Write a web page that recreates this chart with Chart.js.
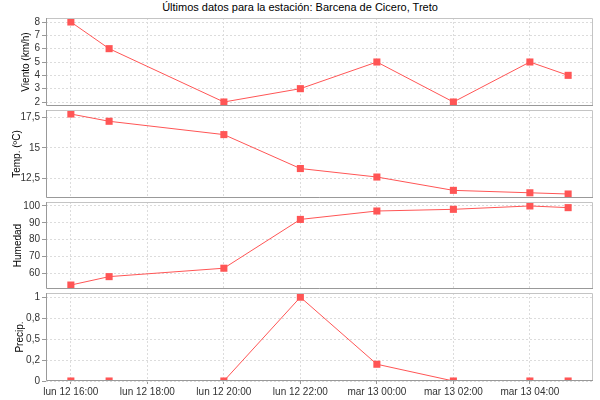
<!DOCTYPE html>
<html>
<head>
<meta charset="utf-8">
<script src="https://cdn.jsdelivr.net/npm/chart.js@4.4.0/dist/chart.umd.min.js"></script>
<style>
  body { margin: 0; background: #fff; }
  #wrap { position: relative; width: 600px; height: 400px; }
  #wrap canvas { position: absolute; left: 0; top: 0; }
  #title {
    position: absolute; top: 1px; left: 0; width: 600px;
    text-align: center; color: #000;
    font: 11px "Liberation Sans", Arial, sans-serif;
  }
</style>
</head>
<body>
<div id="wrap">
  <div id="title">Últimos datos para la estación: Barcena de Cicero, Treto</div>
  <canvas id="viento" width="600" height="400"></canvas>
  <canvas id="temp" width="600" height="400"></canvas>
  <canvas id="humedad" width="600" height="400"></canvas>
  <canvas id="precip" width="600" height="400"></canvas>
</div>
<script>
// observation times (hours after lun 12 16:00)
const timeLabels = ['lun 12 16:00', 'lun 12 17:00', 'lun 12 20:00', 'lun 12 22:00',
                    'mar 13 00:00', 'mar 13 02:00', 'mar 13 04:00', 'mar 13 05:00'];
const timeHours = [0, 1, 4, 6, 8, 10, 12, 13];

const viento = [8, 6, 2, 3, 5, 2, 5, 4];
const temperatura = [17.8, 17.2, 16.1, 13.3, 12.6, 11.5, 11.3, 11.2];
const humedad = [53, 58, 63, 92, 97, 98, 100, 99];
const precipitacion = [0, 0, 0, 1, 0.2, 0, 0, 0];

const xTickHours = [0, 2, 4, 6, 8, 10, 12];
const xTickLabels = ['lun 12 16:00', 'lun 12 18:00', 'lun 12 20:00', 'lun 12 22:00',
                     'mar 13 00:00', 'mar 13 02:00', 'mar 13 04:00'];

const vientoTicks = [2, 3, 4, 5, 6, 7, 8];
const vientoLabels = ['2', '3', '4', '5', '6', '7', '8'];
const tempTicks = [12.5, 15, 17.5];
const tempLabels = ['12,5', '15', '17,5'];
const humedadTicks = [60, 70, 80, 90, 100];
const humedadLabels = ['60', '70', '80', '90', '100'];
const precipTicks = [0, 0.25, 0.5, 0.75, 1];
const precipLabels = ['0', '0,2', '0,5', '0,8', '1'];

const FONT = '"Liberation Sans", Arial, sans-serif';
const RED = '#ff5555';
Chart.defaults.color = '#333';

// 5% margin on each side, like the original auto range
function autoRange(values, includeZero) {
    const lo = Math.min(...values), hi = Math.max(...values);
    const pad = (hi - lo) * 0.05;
    return { min: includeZero ? 0 : lo - pad, max: hi + pad };
}
const xRange = autoRange(timeHours, false);

// light outline on top/right, darker axis lines left/bottom
const outline = {
    id: 'outline',
    afterDraw(chart) {
        const { ctx, chartArea: a } = chart;
        ctx.save();
        ctx.lineWidth = 1;
        ctx.strokeStyle = '#c4c4c4';
        ctx.beginPath();
        ctx.moveTo(a.left, a.top + 0.5);
        ctx.lineTo(a.right - 0.5, a.top + 0.5);
        ctx.lineTo(a.right - 0.5, a.bottom);
        ctx.stroke();
        ctx.strokeStyle = '#999';
        ctx.beginPath();
        ctx.moveTo(a.left + 0.5, a.top);
        ctx.lineTo(a.left + 0.5, a.bottom - 0.5);
        ctx.lineTo(a.right, a.bottom - 0.5);
        ctx.stroke();
        ctx.restore();
    }
};

function makePanel(id, values, yTicks, yLabels, title, titlePad, range, top, bottom, showX) {
    new Chart(document.getElementById(id), {
        type: 'line',
        data: {
            datasets: [{
                data: timeHours.map((h, i) => ({ x: h, y: values[i] })),
                borderColor: RED,
                backgroundColor: RED,
                borderWidth: 1,
                pointStyle: 'rect',
                pointRadius: 5,
                pointBorderWidth: 0,
                tension: 0
            }]
        },
        options: {
            responsive: false,
            animation: false,
            layout: { padding: { top: top, bottom: showX ? 0 : 400 - bottom, left: 0, right: 7 } },
            plugins: { legend: { display: false }, tooltip: { enabled: false } },
            scales: {
                x: {
                    type: 'linear',
                    min: xRange.min,
                    max: xRange.max,
                    afterBuildTicks: s => { s.ticks = xTickHours.map(v => ({ value: v })); },
                    afterFit: s => { s.height = showX ? 400 - bottom : 0; },
                    ticks: {
                        display: showX,
                        autoSkip: false,
                        maxRotation: 0,
                        padding: 2,
                        font: { family: FONT, size: 10 },
                        callback: (v, i) => xTickLabels[i]
                    },
                    grid: { color: '#dcdcdc', drawTicks: showX, tickLength: 3, tickColor: '#999' },
                    border: { display: false, dash: [2, 2] }
                },
                y: {
                    type: 'linear',
                    min: range.min,
                    max: range.max,
                    afterBuildTicks: s => { s.ticks = yTicks.map(v => ({ value: v })); },
                    afterFit: s => { s.width = 46; },
                    ticks: {
                        autoSkip: false,
                        padding: 2,
                        font: { family: FONT, size: 10 },
                        callback: (v, i) => yLabels[i]
                    },
                    title: {
                        display: true,
                        text: title,
                        color: '#000',
                        padding: { top: titlePad, bottom: 0 },
                        font: { family: FONT, size: 10 }
                    },
                    grid: { color: '#dcdcdc', tickLength: 4, tickColor: '#999' },
                    border: { display: false, dash: [2, 2] }
                }
            }
        },
        plugins: [outline]
    });
}

makePanel('viento', viento, vientoTicks, vientoLabels, 'Viento (km/h)', 20.7,
          autoRange(viento, false), 18, 106, false);
makePanel('temp', temperatura, tempTicks, tempLabels, 'Temp. (ºC)', 11.2,
          autoRange(temperatura, false), 110, 198, false);
makePanel('humedad', humedad, humedadTicks, humedadLabels, 'Humedad', 12.3,
          autoRange(humedad, false), 202, 289, false);
makePanel('precip', precipitacion, precipTicks, precipLabels, 'Precip.', 14,
          autoRange(precipitacion, true), 293, 381, true);
</script>
</body>
</html>
